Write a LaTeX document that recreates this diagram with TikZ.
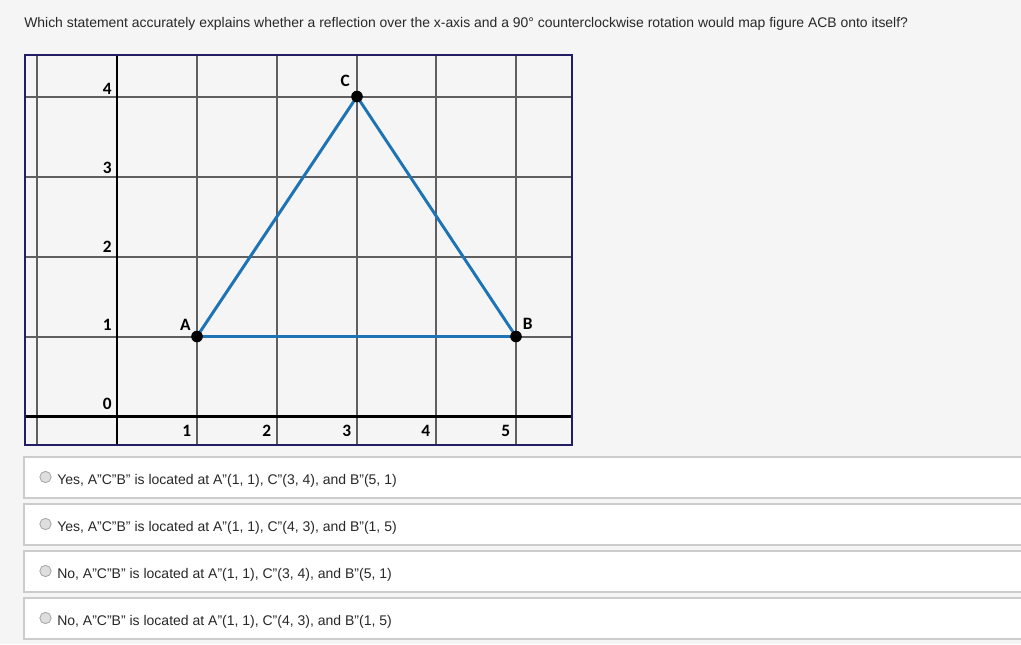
\documentclass[tikz,border=0pt]{standalone}
\usepackage{fontspec}
\setmainfont{Liberation Sans}
\newfontfamily\lblfont{Carlito}
\definecolor{bg}{RGB}{245,245,245}
\definecolor{gridc}{RGB}{95,95,95}
\definecolor{framec}{RGB}{35,30,100}
\definecolor{tri}{RGB}{30,115,180}
\definecolor{boxc}{RGB}{204,204,204}
\definecolor{txt}{RGB}{40,40,40}
\tikzset{
  gridline/.style={draw=gridc,line width=1.5pt},
  axisline/.style={draw=black,line width=2.2pt},
  frameline/.style={draw=framec,line width=2pt},
  side/.style={draw=tri,line width=2.2pt},
  vertex/.style={circle,fill=black,inner sep=0pt,minimum size=8.7pt},
  ticklbl/.style={font=\lblfont\bfseries\fontsize{13}{13}\selectfont,inner sep=0pt},
  optbox/.style={draw=boxc,line width=1.5pt,fill=white},
  radio/.style={circle,draw={rgb,255:red,165;green,165;blue,165},fill={rgb,255:red,222;green,222;blue,222},line width=0.6pt,inner sep=0pt,minimum size=8.5pt},
  opttext/.style={anchor=base west,inner sep=0pt,text=txt,font=\fontsize{10.5}{12}\selectfont}
}
\begin{document}
\begin{tikzpicture}[x=0.75pt,y=-0.75pt]
\fill[bg] (0,0) rectangle (1021,644);
\useasboundingbox (0,0) rectangle (1021,644);
% question
\node[anchor=base west,inner sep=0pt,text=txt,font=\fontsize{10.45}{12}\selectfont] (q) at (24,27.5)
  {Which statement accurately explains whether a reflection over the x-axis and a 90° counterclockwise rotation would map figure ACB onto itself?};
% grid
\foreach \x in {37.2,197,277,357,436,516} \draw[gridline] (\x,55) -- (\x,445);
\foreach \y in {96.5,176.5,256.5,336.5} \draw[gridline] (25,\y) -- (572,\y);
\draw[axisline] (117,55) -- (117,445);
\draw[axisline] (25,416.5) -- (572,416.5);
\draw[frameline] (25,55) rectangle (572,445);
% tick labels
\node[ticklbl,anchor=base east] (y4) at (112,94) {4};
\node[ticklbl,anchor=base east] (y3) at (112,173) {3};
\node[ticklbl,anchor=base east] (y2) at (112,252) {2};
\node[ticklbl,anchor=base east] (y1) at (112,330) {1};
\node[ticklbl,anchor=base east] (y0) at (112,409) {0};
\node[ticklbl,anchor=base east] (x1) at (191.5,436) {1};
\node[ticklbl,anchor=base east] (x2) at (271.5,436) {2};
\node[ticklbl,anchor=base east] (x3) at (351.5,436) {3};
\node[ticklbl,anchor=base east] (x4) at (430.5,436) {4};
\node[ticklbl,anchor=base east] (x5) at (510.5,436) {5};
% triangle
\coordinate (A) at (197,336.5);
\coordinate (B) at (516,336.5);
\coordinate (C) at (357,96.5);
\draw[side] (A) -- (C) -- (B) -- (A);
\node[vertex] (dA) at (A) {};
\node[vertex] (dB) at (B) {};
\node[vertex] (dC) at (C) {};
\node[ticklbl,anchor=base east] (lA) at (191,330) {A};
\node[ticklbl,anchor=base west] (lB) at (522.5,329) {B};
\node[ticklbl,anchor=base east] (lC) at (350,86) {C};
% options
\foreach \t/\txtv [count=\i] in {457/{Yes, A"C"B" is located at A"(1, 1), C"(3, 4), and B"(5, 1)},
  504/{Yes, A"C"B" is located at A"(1, 1), C"(4, 3), and B"(1, 5)},
  551/{No, A"C"B" is located at A"(1, 1), C"(3, 4), and B"(5, 1)},
  598/{No, A"C"B" is located at A"(1, 1), C"(4, 3), and B"(1, 5)}} {
  \draw[optbox] (24,\t) rectangle (1030,\t+41);
  \node[radio] (r\i) at (45.5,\t+20) {};
  \node[opttext] (o\i) at (57,\t+27) {\txtv};
}
\end{tikzpicture}
\end{document}
